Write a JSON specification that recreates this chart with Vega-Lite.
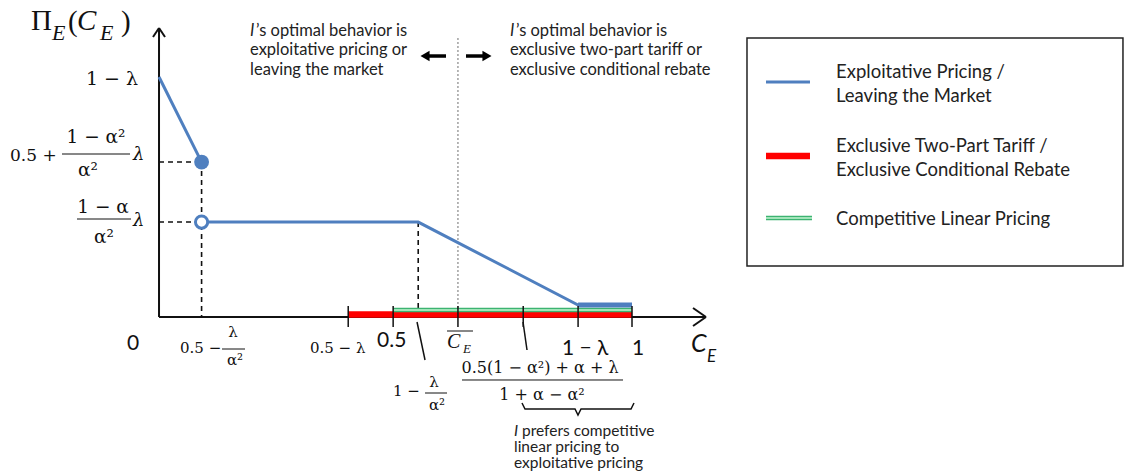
{
  "$schema": "https://vega.github.io/schema/vega-lite/v6.json",
  "width": 1125,
  "height": 472,
  "autosize": {"type": "fit", "contains": "padding"},
  "padding": 0,
  "background": "white",
  "config": {"view": {"stroke": null}},
  "datasets": {
    "dashed": [
      {"x": 0, "y": 0.581, "x2": 0.09, "y2": 0.581},
      {"x": 0, "y": 0.356, "x2": 0.09, "y2": 0.356},
      {"x": 0.09, "y": 0.581, "x2": 0.09, "y2": 0},
      {"x": 0.548, "y": 0.356, "x2": 0.548, "y2": 0.026}
    ],
    "dotted": [
      {"x": 0.632, "y": 1.046, "x2": 0.632, "y2": 0}
    ],
    "axes": [
      {"x": 0, "y": 0, "x2": 0, "y2": 1.0838},
      {"x": 0, "y": 0, "x2": 1.1564, "y2": 0},
      {"x": -0.0127, "y": 1.05, "x2": 0, "y2": 1.0838},
      {"x": 0.0127, "y": 1.05, "x2": 0, "y2": 1.0838},
      {"x": 1.129, "y": 0.03375, "x2": 1.1564, "y2": 0},
      {"x": 1.129, "y": -0.03375, "x2": 1.1564, "y2": 0}
    ],
    "ticks": [
      {"x": 0.4, "y": 0.04125, "x2": 0.4, "y2": -0.0375},
      {"x": 0.495, "y": 0.04125, "x2": 0.495, "y2": -0.0375},
      {"x": 0.632, "y": 0.04125, "x2": 0.632, "y2": -0.0375},
      {"x": 0.77, "y": 0.04125, "x2": 0.77, "y2": -0.0375},
      {"x": 0.886, "y": 0.04125, "x2": 0.886, "y2": -0.0375},
      {"x": 1.0, "y": 0.04125, "x2": 1.0, "y2": -0.0375},
      {"x": 0.5455, "y": -0.01875, "x2": 0.5624, "y2": -0.1612},
      {"x": 0.7696, "y": -0.01875, "x2": 0.778, "y2": -0.1237}
    ],
    "thin": [
      {"x": -0.2051, "y": 0.6112, "x2": -0.0613, "y2": 0.6112},
      {"x": -0.1734, "y": 0.3675, "x2": -0.0592, "y2": 0.3675},
      {"x": 0.1332, "y": -0.12, "x2": 0.1818, "y2": -0.12},
      {"x": 0.5624, "y": -0.285, "x2": 0.6089, "y2": -0.285},
      {"x": 0.6406, "y": -0.2362, "x2": 0.981, "y2": -0.2362},
      {"x": 0.6089, "y": -0.0525, "x2": 0.6638, "y2": -0.0525}
    ],
    "brace": [
      {"i": 1, "x": 0.7674, "y": -0.3225},
      {"i": 2, "x": 0.7738, "y": -0.345},
      {"i": 3, "x": 0.8795, "y": -0.345},
      {"i": 4, "x": 0.8858, "y": -0.3675},
      {"i": 5, "x": 0.8922, "y": -0.345},
      {"i": 6, "x": 0.9979, "y": -0.345},
      {"i": 7, "x": 1.0042, "y": -0.3225}
    ],
    "red": [
      {"x": 0.4, "x2": 1.0, "y": 0.0094},
      {"x": 1.2833, "x2": 1.3763, "y": 0.6037}
    ],
    "green": [
      {"x": 0.495, "x2": 1.0, "y": 0.02625},
      {"x": 1.2833, "x2": 1.3805, "y": 0.3712}
    ],
    "blueband": [
      {"x": 0.886, "x2": 1.0, "y": 0.045}
    ],
    "bluelegend": [
      {"x": 1.2833, "x2": 1.3763, "y": 0.8812}
    ],
    "blue": [
      {"seg": "a", "i": 1, "x": 0, "y": 0.9},
      {"seg": "a", "i": 2, "x": 0.09, "y": 0.581},
      {"seg": "b", "i": 1, "x": 0.09, "y": 0.356},
      {"seg": "b", "i": 2, "x": 0.548, "y": 0.356},
      {"seg": "b", "i": 3, "x": 0.886, "y": 0.045},
      {"seg": "b", "i": 4, "x": 1.0, "y": 0.045}
    ],
    "filled": [{"x": 0.09, "y": 0.581}],
    "open": [{"x": 0.09, "y": 0.356}],
    "arrows": [
      {"x": 0.5687, "x2": 0.6068, "y": 0.9787},
      {"x": 0.649, "x2": 0.6871, "y": 0.9787}
    ],
    "heads": [
      {"dir": "left", "x": 0.5624, "y": 0.9787},
      {"dir": "right", "x": 0.6934, "y": 0.9787}
    ],
    "serif28": [
      {"t": "Π", "x": -0.2706, "y": 1.0762},
      {"t": "(", "x": -0.1924, "y": 1.0725},
      {"t": ")", "x": -0.0803, "y": 1.0725}
    ],
    "serif28i": [
      {"t": "C", "x": -0.1734, "y": 1.0762}
    ],
    "serif20i": [
      {"t": "E", "x": -0.2262, "y": 1.0388},
      {"t": "E", "x": -0.1247, "y": 1.0388}
    ],
    "serif19r": [
      {"t": "1 − λ", "x": -0.0444, "y": 0.87}
    ],
    "serif18": [
      {"t": "0.5 +", "x": -0.315, "y": 0.585}
    ],
    "serif18i": [
      {"t": "λ", "x": -0.055, "y": 0.5887},
      {"t": "λ", "x": -0.055, "y": 0.3412}
    ],
    "serif17c": [
      {"t": "1 − α²", "x": -0.1332, "y": 0.6525},
      {"t": "α²", "x": -0.1501, "y": 0.5287},
      {"t": "1 − α", "x": -0.1184, "y": 0.39},
      {"t": "α²", "x": -0.1163, "y": 0.2775}
    ],
    "serif15": [
      {"t": "0.5 −", "x": 0.0444, "y": -0.135},
      {"t": "0.5 − λ", "x": 0.3192, "y": -0.135},
      {"t": "1 −", "x": 0.4947, "y": -0.2962}
    ],
    "serif15c": [
      {"t": "λ", "x": 0.1564, "y": -0.075},
      {"t": "α²", "x": 0.1607, "y": -0.18},
      {"t": "λ", "x": 0.5814, "y": -0.2625},
      {"t": "α²", "x": 0.5877, "y": -0.3487}
    ],
    "serif16c": [
      {"t": "0.5(1 − α²) + α + λ", "x": 0.8055, "y": -0.21},
      {"t": "1 + α − α²", "x": 0.8097, "y": -0.3112}
    ],
    "sans20": [
      {"t": "0", "x": -0.0677, "y": -0.1238},
      {"t": "0.5", "x": 0.4609, "y": -0.1125},
      {"t": "1 − λ", "x": 0.852, "y": -0.1425},
      {"t": "1", "x": 1.0, "y": -0.1425}
    ],
    "cbarC": [{"t": "C", "x": 0.6089, "y": -0.1162}],
    "cbarE": [{"t": "E", "x": 0.6427, "y": -0.135}],
    "ceC": [{"t": "C", "x": 1.1247, "y": -0.1312}],
    "ceE": [{"t": "E", "x": 1.1586, "y": -0.1688}],
    "note15": [
      {"t": "’s optimal behavior is", "x": 0.2051, "y": 1.0725},
      {"t": "exploitative pricing or", "x": 0.1924, "y": 0.9994},
      {"t": "leaving the market", "x": 0.1924, "y": 0.9262},
      {"t": "’s optimal behavior is", "x": 0.7547, "y": 1.0725},
      {"t": "exclusive two-part tariff or", "x": 0.742, "y": 0.9994},
      {"t": "exclusive conditional rebate", "x": 0.742, "y": 0.9262}
    ],
    "note15i": [
      {"t": "I", "x": 0.1924, "y": 1.0725},
      {"t": "I", "x": 0.742, "y": 1.0725}
    ],
    "note14": [
      {"t": "prefers competitive", "x": 0.7674, "y": -0.4275},
      {"t": "linear pricing to", "x": 0.7505, "y": -0.4875},
      {"t": "exploitative pricing", "x": 0.7505, "y": -0.5475}
    ],
    "note14i": [
      {"t": "I", "x": 0.7505, "y": -0.4275}
    ],
    "legendbox": [
      {"x": 1.2431, "x2": 2.038, "y": 1.0462, "y2": 0.1912}
    ],
    "legendtext": [
      {"t": "Exploitative Pricing /", "x": 1.4313, "y": 0.9187},
      {"t": "Leaving the Market", "x": 1.4313, "y": 0.8287},
      {"t": "Exclusive Two-Part Tariff /", "x": 1.4313, "y": 0.6412},
      {"t": "Exclusive Conditional Rebate", "x": 1.4313, "y": 0.5512},
      {"t": "Competitive Linear Pricing", "x": 1.4313, "y": 0.3675}
    ]
  },
  "encoding": {
    "x": {"field": "x", "type": "quantitative", "scale": {"domain": [-0.3362, 2.0423], "nice": false, "zero": false}, "axis": null},
    "y": {"field": "y", "type": "quantitative", "scale": {"domain": [-0.58125, 1.18875], "nice": false, "zero": false}, "axis": null}
  },
  "layer": [
    {"data": {"name": "legendbox"}, "mark": {"type": "rect", "fill": "white", "stroke": "#222222", "strokeWidth": 1.5}, "encoding": {"x2": {"field": "x2"}, "y2": {"field": "y2"}}},
    {"data": {"name": "dotted"}, "mark": {"type": "rule", "color": "#888888", "strokeWidth": 1.2, "strokeDash": [2, 2]}, "encoding": {"x2": {"field": "x2"}, "y2": {"field": "y2"}}},
    {"data": {"name": "dashed"}, "mark": {"type": "rule", "color": "#111111", "strokeWidth": 1.6, "strokeDash": [5, 4]}, "encoding": {"x2": {"field": "x2"}, "y2": {"field": "y2"}}},
    {"data": {"name": "axes"}, "mark": {"type": "rule", "color": "#111111", "strokeWidth": 2}, "encoding": {"x2": {"field": "x2"}, "y2": {"field": "y2"}}},
    {"data": {"name": "red"}, "mark": {"type": "rule", "color": "#ff0000", "strokeWidth": 6.5}, "encoding": {"x2": {"field": "x2"}}},
    {"data": {"name": "green"}, "mark": {"type": "rule", "color": "#3cb371", "strokeWidth": 4.5}, "encoding": {"x2": {"field": "x2"}}},
    {"data": {"name": "green"}, "mark": {"type": "rule", "color": "#c4f5d2", "strokeWidth": 1.5}, "encoding": {"x2": {"field": "x2"}}},
    {"data": {"name": "blueband"}, "mark": {"type": "rule", "color": "#4f7fbf", "strokeWidth": 5}, "encoding": {"x2": {"field": "x2"}}},
    {"data": {"name": "bluelegend"}, "mark": {"type": "rule", "color": "#4f7fbf", "strokeWidth": 3}, "encoding": {"x2": {"field": "x2"}}},
    {"data": {"name": "blue"}, "mark": {"type": "line", "color": "#4f7fbf", "strokeWidth": 3}, "encoding": {"detail": {"field": "seg"}, "order": {"field": "i"}}},
    {"data": {"name": "ticks"}, "mark": {"type": "rule", "color": "#111111", "strokeWidth": 1.5}, "encoding": {"x2": {"field": "x2"}, "y2": {"field": "y2"}}},
    {"data": {"name": "thin"}, "mark": {"type": "rule", "color": "#111111", "strokeWidth": 1}, "encoding": {"x2": {"field": "x2"}, "y2": {"field": "y2"}}},
    {"data": {"name": "brace"}, "mark": {"type": "line", "color": "#111111", "strokeWidth": 1.5}, "encoding": {"order": {"field": "i"}}},
    {"data": {"name": "filled"}, "mark": {"type": "point", "shape": "circle", "filled": true, "color": "#4f7fbf", "size": 220, "opacity": 1}, "encoding": {}},
    {"data": {"name": "open"}, "mark": {"type": "point", "shape": "circle", "fill": "white", "stroke": "#4f7fbf", "strokeWidth": 3, "size": 150, "opacity": 1, "fillOpacity": 1}, "encoding": {}},
    {"data": {"name": "arrows"}, "mark": {"type": "rule", "color": "#000000", "strokeWidth": 3.5}, "encoding": {"x2": {"field": "x2"}}},
    {"data": {"name": "heads"}, "mark": {"type": "point", "filled": true, "color": "#000000", "size": 110, "opacity": 1}, "encoding": {"shape": {"field": "dir", "type": "nominal", "scale": {"domain": ["left", "right"], "range": ["triangle-left", "triangle-right"]}, "legend": null}}},
    {"data": {"name": "serif28"}, "mark": {"type": "text", "font": "Liberation Serif", "fontSize": 29, "align": "left", "baseline": "alphabetic", "color": "#111111"}, "encoding": {"text": {"field": "t"}}},
    {"data": {"name": "serif28i"}, "mark": {"type": "text", "font": "Liberation Serif", "fontSize": 29, "fontStyle": "italic", "align": "left", "baseline": "alphabetic", "color": "#111111"}, "encoding": {"text": {"field": "t"}}},
    {"data": {"name": "serif20i"}, "mark": {"type": "text", "font": "Liberation Serif", "fontSize": 22, "fontStyle": "italic", "align": "left", "baseline": "alphabetic", "color": "#111111"}, "encoding": {"text": {"field": "t"}}},
    {"data": {"name": "serif19r"}, "mark": {"type": "text", "font": "DejaVu Serif", "fontSize": 19, "align": "right", "baseline": "alphabetic", "color": "#111111"}, "encoding": {"text": {"field": "t"}}},
    {"data": {"name": "serif18"}, "mark": {"type": "text", "font": "DejaVu Serif", "fontSize": 17, "align": "left", "baseline": "alphabetic", "color": "#111111"}, "encoding": {"text": {"field": "t"}}},
    {"data": {"name": "serif18i"}, "mark": {"type": "text", "font": "DejaVu Serif", "fontSize": 18, "fontStyle": "italic", "align": "left", "baseline": "alphabetic", "color": "#111111"}, "encoding": {"text": {"field": "t"}}},
    {"data": {"name": "serif17c"}, "mark": {"type": "text", "font": "DejaVu Serif", "fontSize": 18.5, "align": "center", "baseline": "alphabetic", "color": "#111111"}, "encoding": {"text": {"field": "t"}}},
    {"data": {"name": "serif15"}, "mark": {"type": "text", "font": "DejaVu Serif", "fontSize": 15, "align": "left", "baseline": "alphabetic", "color": "#111111"}, "encoding": {"text": {"field": "t"}}},
    {"data": {"name": "serif15c"}, "mark": {"type": "text", "font": "DejaVu Serif", "fontSize": 15, "align": "center", "baseline": "alphabetic", "color": "#111111"}, "encoding": {"text": {"field": "t"}}},
    {"data": {"name": "serif16c"}, "mark": {"type": "text", "font": "DejaVu Serif", "fontSize": 16, "align": "center", "baseline": "alphabetic", "color": "#111111"}, "encoding": {"text": {"field": "t"}}},
    {"data": {"name": "sans20"}, "mark": {"type": "text", "font": "Lato", "fontSize": 21, "align": "left", "baseline": "alphabetic", "color": "#111111"}, "encoding": {"text": {"field": "t"}}},
    {"data": {"name": "cbarC"}, "mark": {"type": "text", "font": "Liberation Serif", "fontSize": 20, "fontStyle": "italic", "align": "left", "baseline": "alphabetic", "color": "#111111"}, "encoding": {"text": {"field": "t"}}},
    {"data": {"name": "cbarE"}, "mark": {"type": "text", "font": "Liberation Serif", "fontSize": 13, "fontStyle": "italic", "align": "left", "baseline": "alphabetic", "color": "#111111"}, "encoding": {"text": {"field": "t"}}},
    {"data": {"name": "ceC"}, "mark": {"type": "text", "font": "Lato", "fontSize": 25, "fontStyle": "italic", "align": "left", "baseline": "alphabetic", "color": "#111111"}, "encoding": {"text": {"field": "t"}}},
    {"data": {"name": "ceE"}, "mark": {"type": "text", "font": "Lato", "fontSize": 17, "fontStyle": "italic", "align": "left", "baseline": "alphabetic", "color": "#111111"}, "encoding": {"text": {"field": "t"}}},
    {"data": {"name": "note15"}, "mark": {"type": "text", "font": "Lato", "fontSize": 16.5, "align": "left", "baseline": "middle", "color": "#222222"}, "encoding": {"text": {"field": "t"}}},
    {"data": {"name": "note15i"}, "mark": {"type": "text", "font": "Lato", "fontSize": 16.5, "fontStyle": "italic", "align": "left", "baseline": "middle", "color": "#222222"}, "encoding": {"text": {"field": "t"}}},
    {"data": {"name": "note14"}, "mark": {"type": "text", "font": "Lato", "fontSize": 15.5, "align": "left", "baseline": "middle", "color": "#222222"}, "encoding": {"text": {"field": "t"}}},
    {"data": {"name": "note14i"}, "mark": {"type": "text", "font": "Lato", "fontSize": 15.5, "fontStyle": "italic", "align": "left", "baseline": "middle", "color": "#222222"}, "encoding": {"text": {"field": "t"}}},
    {"data": {"name": "legendtext"}, "mark": {"type": "text", "font": "Lato", "fontSize": 18.5, "align": "left", "baseline": "middle", "color": "#222222"}, "encoding": {"text": {"field": "t"}}}
  ]
}
